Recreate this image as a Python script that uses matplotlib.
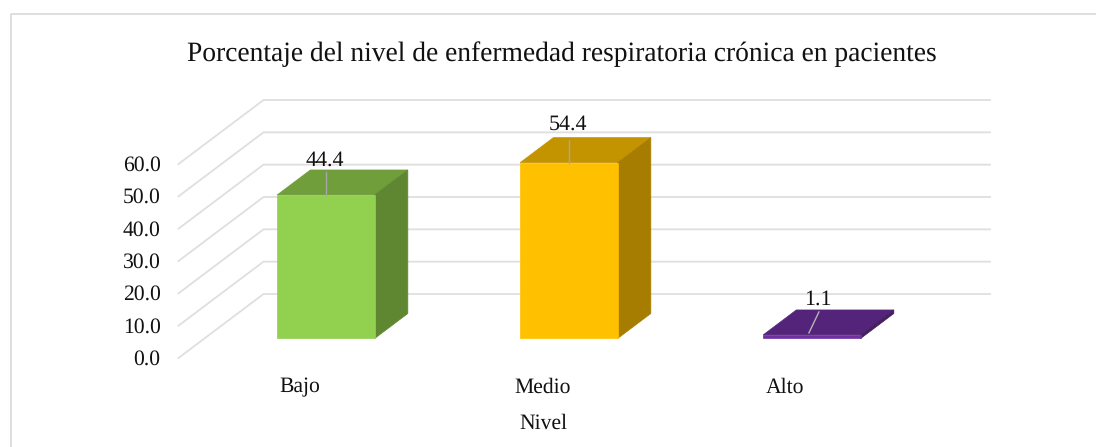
import matplotlib
matplotlib.use("Agg")
import matplotlib.pyplot as plt
from matplotlib.lines import Line2D

categories = ["Bajo", "Medio", "Alto"]
values = [44.4, 54.4, 1.1]
value_labels = ["44.4", "54.4", "1.1"]
y_ticks = [0, 10, 20, 30, 40, 50, 60]
title = "Porcentaje del nivel de enfermedad respiratoria crónica en pacientes"
x_title = "Nivel"

front_colors = ["#92D050", "#FFC000", "#7030A0"]
top_colors = ["#6F9E3A", "#C49400", "#54247A"]
side_colors = ["#5F8731", "#A67D00", "#45205F"]

plt.rcParams["font.family"] = "Liberation Serif"
plt.rcParams["text.hinting"] = "none"
W, H = 1096, 447
fig = plt.figure(figsize=(W / 100, H / 100), dpi=100, facecolor="white")
ax = fig.add_axes([0, 0, 1, 1])
ax.axis("off")

PX_X, PX_Y = 243.0, 3.233
X0, Y0 = 300.0, 358.0
ax.set_xlim((0 - X0) / PX_X, (W - X0) / PX_X)
ax.set_ylim((Y0 - H) / PX_Y, Y0 / PX_Y)

DX, DY = 85 / PX_X, 64 / PX_Y
D_FRONT, D_BACK = 0.305, 0.695
BW = 97.5 / PX_X


def oblique(x, y, d):
    return (x + d * DX, y + d * DY)


# frame: only top and left edges show in the crop
fig.add_artist(Line2D([11 / W, 11 / W, 1], [0, 1 - 14 / H, 1 - 14 / H],
                      transform=fig.transFigure, color="#DCDCDC", lw=1.3))

grid = "#DFDFDF"
for t in y_ticks:
    a = oblique(-0.5, t, 0)
    b = oblique(-0.5, t, 1)
    c = oblique(2.49, t, 1)
    ax.plot([a[0], b[0], c[0]], [a[1], b[1], c[1]], color=grid, lw=1.3, zorder=1,
            solid_joinstyle="miter")
    ax.text(-0.5 - 18 / PX_X, t - 1.5 / PX_Y, f"{t:.1f}", ha="right", va="center", fontsize=15.6, color="#111111")

for i, (v, fc, tc, sc) in enumerate(zip(values, front_colors, top_colors, side_colors)):
    l, r = i - BW / 2, i + BW / 2
    ax.fill(*zip(oblique(l, v, D_FRONT), oblique(r, v, D_FRONT),
                 oblique(r, v, D_BACK), oblique(l, v, D_BACK)), fc=tc, ec=tc, lw=0.5, zorder=3)
    ax.fill(*zip(oblique(r, 0, D_FRONT), oblique(r, 0, D_BACK),
                 oblique(r, v, D_BACK), oblique(r, v, D_FRONT)), fc=sc, ec=sc, lw=0.5, zorder=3)
    ax.fill(*zip(oblique(l, 0, D_FRONT), oblique(r, 0, D_FRONT),
                 oblique(r, v, D_FRONT), oblique(l, v, D_FRONT)), fc=fc, ec=fc, lw=0.5, zorder=4)
    ax.text(i - 0.5 / PX_X, -29 / PX_Y, categories[i], ha="center", va="center", fontsize=15.6,
            color="#111111", zorder=6)

# data labels and leader lines
for i, (v, s) in enumerate(zip(values, value_labels)):
    cx, cy = oblique(i, v, D_FRONT)
    if v > 50:
        ax.plot([cx, cx], [cy, cy + 23 / PX_Y], color="#A6A6A6", lw=1.0, zorder=5)
        ax.text(cx - 1 / PX_X, cy + 38.5 / PX_Y, s, ha="center", va="center", fontsize=15.8, color="#111111", zorder=6)
    elif v > 5:
        ax.plot([cx, cx], [cy, cy + 23 / PX_Y], color="#A6A6A6", lw=1.0, zorder=5)
        ax.text(cx - 1 / PX_X, cy + 34.5 / PX_Y, s, ha="center", va="center", fontsize=15.8, color="#111111", zorder=6)
    else:
        ax.plot([cx - 3 / PX_X, cx + 7 / PX_X], [cy + 2 / PX_Y, cy + 23 / PX_Y], color="#B5B5B5", lw=1.0, zorder=5)
        ax.text(cx + 6 / PX_X, cy + 36 / PX_Y, s, ha="center", va="center", fontsize=15.8, color="#111111", zorder=6)

fig.text(562 / W, 1 - 54.5 / H, title, ha="center", va="center", fontsize=19.85, color="#111111")
fig.text(543 / W, 1 - 423.5 / H, x_title, ha="center", va="center", fontsize=15.6, color="#111111")

fig.savefig("out.png", dpi=100, facecolor="white")
